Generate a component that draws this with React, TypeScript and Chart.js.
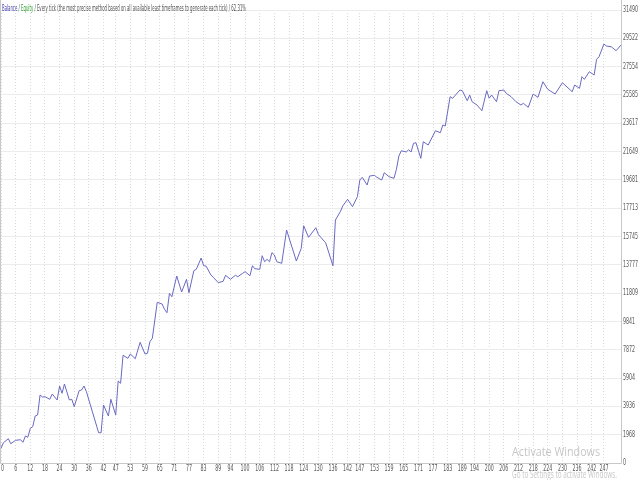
import { useEffect, useRef } from "react";
import { Chart, registerables } from "chart.js";

Chart.register(...registerables);

// Trade number (x) for each vertex of the balance line
const tradeNumbers = [
  0, 1, 3, 4, 6, 8, 9, 10, 11, 12, 13, 14, 15, 16, 17, 18, 20, 21, 23, 24,
  25, 26, 28, 29, 30, 32, 33, 34, 35, 40, 41, 42, 44, 45, 47, 48, 49, 50, 52, 53,
  55, 57, 59, 60, 61, 62, 64, 66, 67, 68, 69, 70, 72, 74, 76, 77, 79, 80, 82, 83,
  84, 86, 87, 89, 91, 92, 94, 96, 97, 99, 100, 102, 103, 104, 106, 107, 108, 109, 110, 111,
  112, 113, 115, 117, 121, 123, 124, 126, 129, 130, 131, 133, 136, 137, 139, 140, 142, 144, 146, 147,
  148, 150, 151, 153, 154, 156, 157, 159, 161, 162, 163, 164, 166, 167, 168, 169, 170, 172, 173, 175,
  178, 180, 181, 182, 184, 185, 188, 189, 191, 192, 193, 195, 197, 199, 200, 201, 203, 204, 206, 207,
  209, 211, 213, 214, 216, 218, 220, 222, 224, 227, 230, 234, 235, 237, 238, 239, 241, 243, 244, 245,
  247, 248, 250, 252, 254,
];

// Balance at each vertex
const balanceValues = [
  1022, 1411, 1689, 1342, 1578, 1620, 1439, 1877, 1786, 2412, 2523, 3267, 3336, 4727, 4588, 4609, 4428, 4796, 4379, 5352,
  4845, 5491, 4379, 4428, 3913, 5026, 5074, 5352, 4956, 2106, 2106, 4032, 3267, 4428, 3336, 5700, 5540, 7486, 7278, 7577,
  7250, 8390, 7577, 7625, 8432, 8668, 11170, 11052, 10684, 10447, 11796, 11560, 12998, 11886, 12769, 11838, 13367, 13464, 14250, 13714,
  13693, 13068, 12908, 12533, 12630, 13047, 12769, 13047, 12950, 13186, 13297, 13019, 13714, 13506, 13464, 14410, 13992, 14159, 13992, 14618,
  14458, 13992, 13881, 16196, 14041, 14924, 16495, 15689, 16356, 15897, 15689, 15313, 13714, 16891, 17468, 17864, 18330, 17816, 18511, 19671,
  19859, 19324, 19949, 19998, 19859, 19671, 20179, 19901, 19790, 20415, 21340, 21708, 21618, 21777, 21618, 22222, 22264, 21180, 22334, 22104,
  23098, 22959, 23494, 23425, 25462, 25350, 25927, 25879, 25184, 25580, 25114, 24885, 24489, 25879, 25350, 25580, 25114, 25879, 25927, 25698,
  25462, 25114, 24885, 25003, 24725, 25649, 25420, 26504, 25976, 25649, 26435, 25809, 26275, 26045, 26852, 26671, 27199, 26970, 28061, 28242,
  29125, 28986, 28937, 28659, 29055,
];

const xTickLabels = [
  0, 6, 12, 18, 24, 30, 36, 42, 47, 53, 59, 65, 71, 77, 83, 89, 94, 100, 106, 112, 118,
  124, 130, 136, 142, 147, 153, 159, 165, 171, 177, 183, 189, 194, 200, 206, 212, 218,
  224, 230, 236, 242, 247,
];

const yTickLabels = [
  0, 1968, 3936, 5904, 7872, 9841, 11809, 13777, 15745, 17713, 19681, 21649, 23617,
  25585, 27554, 29522, 31490,
];

const headerParts = [
  { text: "Balance", color: "#3b3ba8" },
  { text: " / ", color: "#505050" },
  { text: "Equity", color: "#2e9e2e" },
  {
    text: " / Every tick (the most precise method based on all available least timeframes to generate each tick) / 62.31%",
    color: "#505050",
  },
];

const FONT = '"DejaVu Sans Condensed", "Liberation Sans", sans-serif';

const fitText = (ctx: any, text: string, x: number, y: number, width: number) => {
  const w = ctx.measureText(text).width;
  ctx.save();
  ctx.translate(x, y);
  ctx.scale(width / w, 1);
  ctx.fillText(text, 0, 0);
  ctx.restore();
};

const framePlugin = {
  id: "frame",
  beforeDatasetsDraw(chart: any) {
    const { ctx, chartArea } = chart;
    ctx.save();
    ctx.strokeStyle = "#c8c8c8";
    ctx.lineWidth = 1;
    ctx.beginPath();
    ctx.moveTo(0.5, 0);
    ctx.lineTo(0.5, chartArea.bottom + 0.5);
    ctx.lineTo(Math.round(chartArea.right) + 0.5, chartArea.bottom + 0.5);
    ctx.lineTo(Math.round(chartArea.right) + 0.5, 0);
    ctx.stroke();
    ctx.restore();
  },
  afterDraw(chart: any) {
    const { ctx, chartArea } = chart;
    // header
    ctx.save();
    ctx.font = "9px " + FONT;
    ctx.textBaseline = "middle";
    let total = 0;
    headerParts.forEach((p) => (total += ctx.measureText(p.text).width));
    const s = 244 / total;
    ctx.translate(2, 9);
    ctx.scale(s, 1);
    let x = 0;
    headerParts.forEach((p) => {
      ctx.fillStyle = p.color;
      ctx.fillText(p.text, x, 0);
      x += ctx.measureText(p.text).width;
    });
    ctx.restore();

    // axis labels (narrow font)
    ctx.save();
    ctx.font = "8px " + FONT;
    ctx.fillStyle = "#555555";
    const sx = 15 / ctx.measureText("31490").width;
    const ys = chart.scales.y;
    ctx.textBaseline = "middle";
    ctx.textAlign = "left";
    yTickLabels.forEach((v) => {
      const py = ys.getPixelForValue(v);
      const t = String(v);
      ctx.save();
      ctx.translate(chartArea.right + 2, py);
      ctx.scale(sx, 1);
      ctx.fillText(t, 0, 0);
      ctx.restore();
    });
    const xs = chart.scales.x;
    ctx.textBaseline = "top";
    xTickLabels.forEach((v) => {
      const px = xs.getPixelForValue(v);
      const t = String(v);
      const w = ctx.measureText(t).width * sx;
      const left = Math.max(px - w / 2, 1);
      ctx.save();
      ctx.translate(left, chartArea.bottom + 2);
      ctx.scale(sx, 1);
      ctx.fillText(t, 0, 0);
      ctx.restore();
    });
    ctx.restore();

    // watermark
    ctx.save();
    ctx.fillStyle = "rgba(160,160,160,0.6)";
    ctx.textBaseline = "middle";
    ctx.font = '13px "Open Sans", sans-serif';
    fitText(ctx, "Activate Windows", 512, 452, 88);
    ctx.font = '10px "Open Sans", sans-serif';
    fitText(ctx, "Go to Settings to activate Windows.", 512, 475, 105);
    ctx.restore();
  },
};

export default function App() {
  const canvasRef = useRef<HTMLCanvasElement | null>(null);

  useEffect(() => {
    if (!canvasRef.current) return;
    const chart = new Chart(canvasRef.current, {
      type: "line",
      data: {
        datasets: [
          {
            label: "Balance",
            data: tradeNumbers.map((t, i) => ({ x: t, y: balanceValues[i] })),
            borderColor: "rgb(105,105,195)",
            borderWidth: 1,
            pointRadius: 0,
            tension: 0,
            fill: false,
          },
        ],
      },
      options: {
        animation: false,
        responsive: false,
        maintainAspectRatio: false,
        layout: { padding: { left: 1, top: 10, right: 0, bottom: 0 } },
        plugins: {
          legend: { display: false },
          tooltip: { enabled: false },
          title: { display: false },
        },
        scales: {
          x: {
            type: "linear",
            min: 0,
            max: 254,
            afterBuildTicks: (scale: any) => {
              scale.ticks = xTickLabels.map((v) => ({ value: v }));
            },
            afterFit: (scale: any) => {
              scale.height = 17;
            },
            ticks: { display: false, autoSkip: false },
            grid: {
              color: "#dadada",
              lineWidth: 1,
              drawTicks: false,
            },
            border: { display: false, dash: [1, 2] },
          },
          y: {
            type: "linear",
            position: "right",
            min: 0,
            max: 31490,
            afterBuildTicks: (scale: any) => {
              scale.ticks = yTickLabels.map((v) => ({ value: v }));
            },
            afterFit: (scale: any) => {
              scale.width = 19;
            },
            ticks: { display: false, autoSkip: false },
            grid: {
              color: "#ececec",
              lineWidth: 1,
              drawTicks: false,
            },
            border: { display: false },
          },
        },
      },
      plugins: [framePlugin],
    });
    return () => chart.destroy();
  }, []);

  return (
    <div style={{ position: "absolute", left: 0, top: 0, width: 640, height: 480, background: "#ffffff" }}>
      <canvas ref={canvasRef} width={640} height={480} style={{ width: 640, height: 480, display: "block" }} />
    </div>
  );
}
